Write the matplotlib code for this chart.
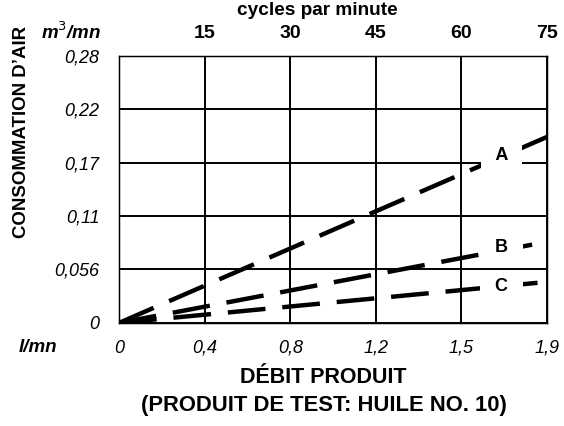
import matplotlib
matplotlib.use("Agg")
import matplotlib.pyplot as plt

plt.rcParams["font.family"] = ["Liberation Sans", "DejaVu Sans"]

# grid positions on the cycles/minute scale
cycles = [0, 15, 30, 45, 60, 75]
cycle_labels = ["", "15", "30", "45", "60", "75"]
flow_labels = ["0", "0,4", "0,8", "1,2", "1,5", "1,9"]
air_ticks = [0, 0.056, 0.112, 0.168, 0.224, 0.28]
air_labels = ["0", "0,056", "0,11", "0,17", "0,22", "0,28"]

# curves (straight lines from origin)
line_x = [0, 75]
curve_a = [0, 0.195]
curve_b = [0, 0.085]
curve_c = [0, 0.043]
curve_names = ["A", "B", "C"]
label_x = 67
label_y = [0.1755, 0.0795, 0.0385]

fig = plt.figure(figsize=(5.64, 4.26), dpi=100)
ax = fig.add_axes([0.211, 0.242, 0.759, 0.627])

for ys in (curve_a, curve_b, curve_c):
    ax.plot(line_x, ys, color="black", lw=3.2, dashes=(8.5, 3.8),
            solid_capstyle="butt", dash_capstyle="butt", zorder=3)

for name, y in zip(curve_names, label_y):
    ax.text(label_x, y, "  " + name + "  ", fontsize=13, fontweight="bold",
            ha="center", va="center", zorder=5,
            bbox=dict(facecolor="white", edgecolor="none", pad=3.5))

ax.set_xlim(0, 75)
ax.set_ylim(0, 0.28)
ax.set_xticks(cycles)
ax.set_xticklabels(flow_labels, fontsize=13, fontstyle="italic")
ax.set_yticks(air_ticks)
ax.set_yticklabels(air_labels, fontsize=13, fontstyle="italic")
ax.tick_params(axis="x", length=0, pad=12)
ax.tick_params(axis="y", length=0, pad=14)
ax.grid(True, color="black", lw=1.4)
for sp in ax.spines.values():
    sp.set_linewidth(1.0)

ax2 = ax.twiny()
ax2.set_xlim(0, 75)
ax2.set_xticks(cycles)
ax2.set_xticklabels(cycle_labels, fontsize=14, fontweight="bold")
ax2.tick_params(axis="x", length=0, pad=10)

fig.text(0.562, 0.975, "cycles par minute", fontsize=13.7, fontweight="bold",
         ha="center", va="center")
fig.text(0.126, 0.925, "m$^3$/mn", fontsize=13.5, fontweight="bold",
         fontstyle="italic", ha="center", va="center")
fig.text(0.038, 0.69, "CONSOMMATION D\u2019AIR", fontsize=13.4, fontweight="bold",
         rotation=90, ha="center", va="center")
fig.text(0.067, 0.185, "l/mn", fontsize=13.5, fontweight="bold",
         fontstyle="italic", ha="center", va="center")
fig.text(0.573, 0.113, "D\u00c9BIT PRODUIT", fontsize=15.5, fontweight="bold",
         ha="center", va="center")
fig.text(0.575, 0.049, "(PRODUIT DE TEST: HUILE NO. 10)", fontsize=15.8,
         fontweight="bold", ha="center", va="center")

fig.savefig("out.png", dpi=100)
